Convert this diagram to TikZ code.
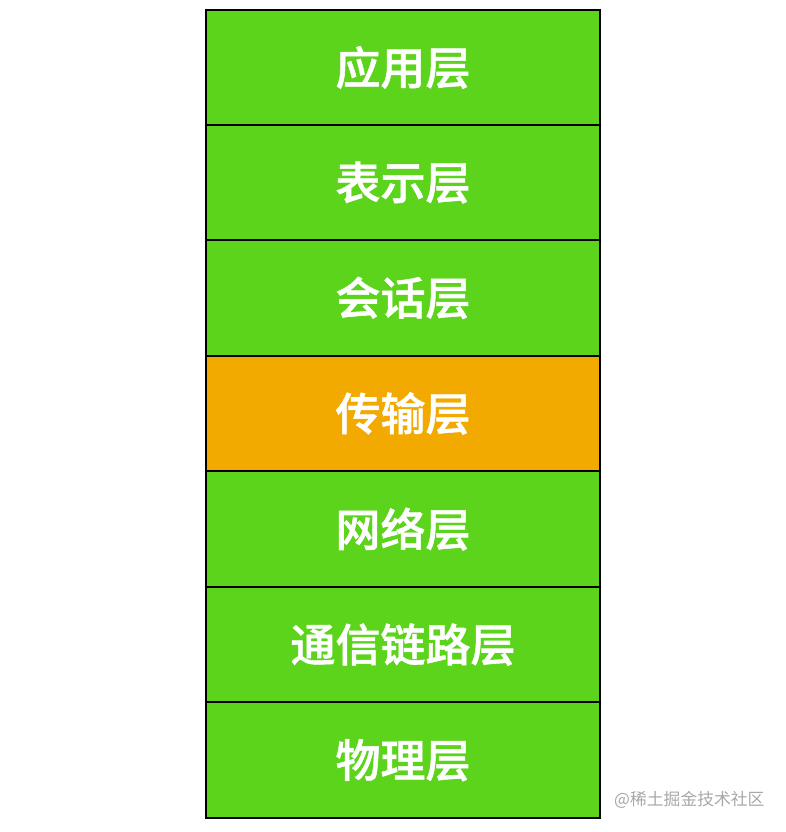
\documentclass[tikz,border=0pt]{standalone}
\usepackage{fontspec}
\newfontfamily\cjk{Noto Sans CJK SC}[BoldFont={Noto Sans CJK SC Medium},BoldFeatures={FakeBold=1.2}]
\definecolor{lgreen}{HTML}{5CD41C}
\definecolor{lorange}{HTML}{F2AA00}
\definecolor{wmgray}{HTML}{A8A8A8}
\begin{document}
\begin{tikzpicture}[x=1pt,y=1pt,
  layer/.style={draw=black,line width=2pt,minimum width=394pt,minimum height=115.57pt,inner sep=0pt,
    font=\cjk\bfseries\fontsize{45}{50}\selectfont,text=white},
  green/.style={fill=lgreen},
  orange/.style={fill=lorange}]
\useasboundingbox (0,0) rectangle (786,-832);
\node[layer,green] (l1) at (403,-67.5) {应用层};
\node[layer,green] (l2) at (403,-182.4) {表示层};
\node[layer,green] (l3) at (403,-297.9) {会话层};
\node[layer,orange] (l4) at (403,-413.5) {传输层};
\node[layer,green] (l5) at (403,-529.1) {网络层};
\node[layer,green] (l6) at (403,-644.6) {通信链路层};
\node[layer,green] (l7) at (403,-760.2) {物理层};
\node[text=wmgray,font=\cjk\fontsize{16.8}{18}\selectfont,anchor=west,inner sep=0pt] (wm) at (614,-800) {@稀土掘金技术社区};
\end{tikzpicture}
\end{document}
